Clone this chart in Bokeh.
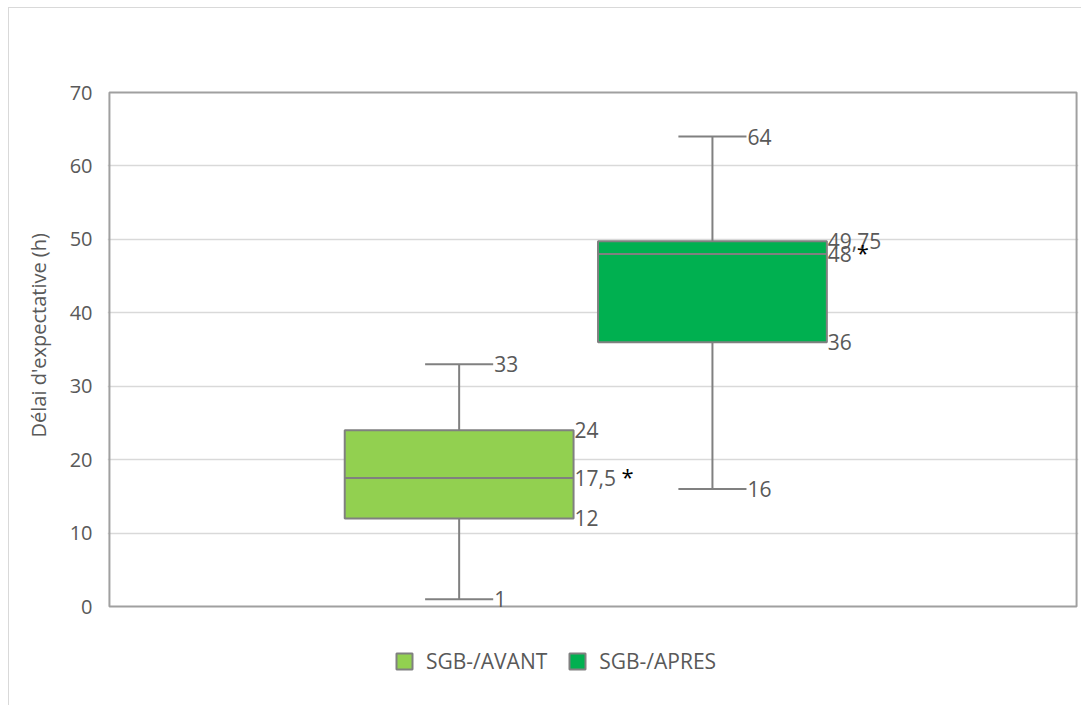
from bokeh.plotting import figure
from bokeh.models import ColumnDataSource, Range1d, Legend, LegendItem, FixedTicker, Title
from bokeh.embed import file_html
from bokeh.resources import INLINE
from bokeh.core.properties import value

# ---------------- data ----------------
categories = ["SGB-/AVANT", "SGB-/APRES"]
minimum = [1, 16]
q1 = [12, 36]
median = [17.5, 48]
q3 = [24, 49.75]
maximum = [33, 64]
significance = ["*", "*"]
colors = ["#92D050", "#00B050"]
y_ticks = [0, 10, 20, 30, 40, 50, 60, 70]
y_title = "Délai d'expectative (h)"


def fmt(v):
    return ("%g" % v).replace(".", ",")


# ---------------- layout ----------------
first_center = 0.3616
step = 0.2619
box_half = 0.1183
cap_half = 0.0352
xs = [first_center + i * step for i in range(len(categories))]

y_lo, y_hi = y_ticks[0], y_ticks[-1]
pad = (y_hi - y_lo) * 84 / 514          # room kept around the plot area (for the legend)
xpad = 0.002

FONT = "Open Sans"
GREY_TXT = "#595959"
LINE = "#808080"

p = figure(width=1073, height=698, output_backend="svg", toolbar_location=None,
           x_range=Range1d(0 - xpad, 1 + xpad), y_range=Range1d(y_lo - pad, y_hi + pad),
           min_border_left=97, min_border_right=4, min_border_top=0, min_border_bottom=16,
           styles={"margin-left": "8px", "margin-top": "7px",
                   "border-left": "1px solid #d9d9d9", "border-top": "1px solid #d9d9d9"})
p.background_fill_color = "white"
p.border_fill_color = "white"
p.outline_line_color = None

p.xaxis.visible = False
p.xgrid.visible = False
p.ygrid.ticker = FixedTicker(ticks=y_ticks[1:-1])
p.ygrid.grid_line_color = "#d9d9d9"
p.ygrid.grid_line_width = 1.3
p.yaxis.ticker = FixedTicker(ticks=y_ticks)
p.yaxis.axis_line_color = None
p.yaxis.major_tick_line_color = None
p.yaxis.minor_tick_line_color = None
p.yaxis.major_label_text_font = FONT
p.yaxis.major_label_text_font_size = "20px"
p.yaxis.major_label_text_color = GREY_TXT
p.yaxis.major_label_standoff = 9

# y-axis title (as a side title so that it sits where the original has it)
ytitle = Title(text=y_title, align="left", offset=253, vertical_align="middle",
               standoff=28, text_font=FONT, text_font_size="20px",
               text_font_style="normal", text_color=GREY_TXT)
p.add_layout(ytitle, "left")

# plot-area frame
p.quad(left=[0], right=[1], bottom=[y_lo], top=[y_hi], fill_color=None,
       line_color="#a0a0a0", line_width=2)

# whiskers
wsrc = ColumnDataSource(dict(
    x=xs + xs,
    y0=q3 + q1,
    y1=maximum + minimum,
))
p.segment(x0="x", y0="y0", x1="x", y1="y1", source=wsrc, line_color=LINE, line_width=2)

csrc = ColumnDataSource(dict(
    x0=[x - cap_half for x in xs] * 2,
    x1=[x + cap_half for x in xs] * 2,
    y=maximum + minimum,
))
p.segment(x0="x0", y0="y", x1="x1", y1="y", source=csrc, line_color=LINE, line_width=2)

# boxes
bsrc = ColumnDataSource(dict(x=xs, top=q3, bottom=q1, color=colors, label=categories))
box_r = p.vbar(x="x", top="top", bottom="bottom", width=2 * box_half, source=bsrc,
               fill_color="color", line_color=LINE, line_width=2)

msrc = ColumnDataSource(dict(
    x0=[x - box_half for x in xs], x1=[x + box_half for x in xs], y=median))
p.segment(x0="x0", y0="y", x1="x1", y1="y", source=msrc, line_color=LINE, line_width=2)

# value labels
lab_x, lab_y, lab_t = [], [], []
for i, x in enumerate(xs):
    for v in (maximum[i], minimum[i]):
        lab_x.append(x + cap_half); lab_y.append(v); lab_t.append(fmt(v))
    for v in (q3[i], median[i], q1[i]):
        lab_x.append(x + box_half); lab_y.append(v); lab_t.append(fmt(v))
lsrc = ColumnDataSource(dict(x=lab_x, y=lab_y, t=lab_t))
p.text(x="x", y="y", text="t", source=lsrc, x_offset=1, text_baseline="middle",
       text_align="left", text_font=value(FONT), text_font_size="21px", text_color=GREY_TXT)

# significance stars after median labels
star_dx = [48, 30]
for i, x in enumerate(xs):
    p.text(x=[x + box_half], y=[median[i]], text=[significance[i]], x_offset=star_dx[i],
           y_offset=-2.5, text_baseline="middle", text_align="left", text_font=value(FONT),
           text_font_size="22px", text_color="black")

legend = Legend(items=[LegendItem(label=categories[i], renderers=[box_r], index=i)
                       for i in range(len(categories))],
                orientation="horizontal", location=(287, 15))
legend.label_text_font = FONT
legend.label_text_font_size = "21px"
legend.label_text_color = GREY_TXT
legend.glyph_width = 20
legend.glyph_height = 20
legend.label_standoff = 12
legend.spacing = 20
legend.padding = 0
legend.margin = 0
legend.border_line_color = None
legend.background_fill_alpha = 0
p.add_layout(legend, "center")

open("out.html", "w").write(file_html(p, INLINE))
